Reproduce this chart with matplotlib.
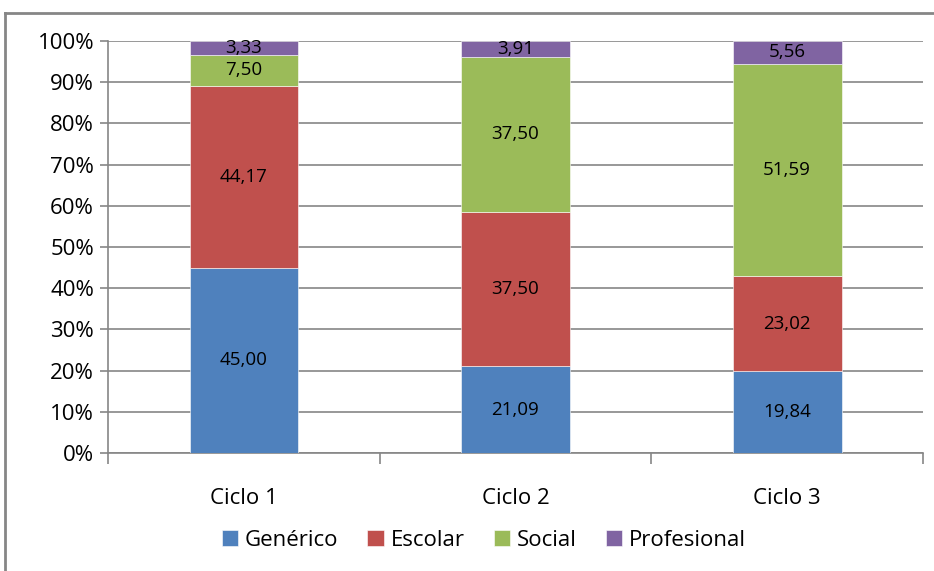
import numpy as np
import matplotlib.pyplot as plt
from matplotlib.lines import Line2D

categories = ["Ciclo 1", "Ciclo 2", "Ciclo 3"]
series_names = ["Genérico", "Escolar", "Social", "Profesional"]
generico = [45.00, 21.09, 19.84]
escolar = [44.17, 37.50, 23.02]
social = [7.50, 37.50, 51.59]
profesional = [3.33, 3.91, 5.56]
y_ticks = [0, 10, 20, 30, 40, 50, 60, 70, 80, 90, 100]

colors = ["#4F81BD", "#C0504D", "#9BBB59", "#8064A2"]
grey = "#868686"

plt.rcParams["font.family"] = ["Open Sans", "DejaVu Sans"]

fig = plt.figure(figsize=(9.34, 5.71), dpi=100)
ax = fig.add_axes([108 / 934, 118 / 571, (923 - 108) / 934, (453 - 41) / 571])

x = np.arange(len(categories))
bottom = np.zeros(len(categories))
for name, vals, col in zip(series_names, [generico, escolar, social, profesional], colors):
    vals = np.array(vals)
    ax.bar(x, vals, 0.4, bottom=bottom, color=col, label=name,
           edgecolor="white", linewidth=0.4, zorder=3)
    for xi, b, v in zip(x, bottom, vals):
        ax.text(xi, b + v / 2, f"{v:.2f}".replace(".", ","), ha="center", va="center",
                fontsize=13.5, color="black", zorder=4)
    bottom += vals

ax.set_xlim(-0.5, 2.5)
ax.set_ylim(0, 100)
ax.set_yticks(y_ticks)
ax.set_yticklabels([f"{t}%" for t in y_ticks])
ax.yaxis.grid(True, color=grey, linewidth=1.2, zorder=0)

ax.set_xticks([-0.5, 0.5, 1.5, 2.5])
ax.set_xticklabels([])
ax.set_xticks(x, minor=True)
ax.set_xticklabels(categories, minor=True)
ax.tick_params(axis="x", which="major", length=8, width=1.2, color=grey)
ax.tick_params(axis="x", which="minor", length=0, pad=25, labelsize=16)
ax.tick_params(axis="y", length=6, width=1.2, color=grey, labelsize=16, pad=4)

for s in ["top", "right"]:
    ax.spines[s].set_visible(False)
for s in ["left", "bottom"]:
    ax.spines[s].set_color(grey)
    ax.spines[s].set_linewidth(1.2)

fig.legend(loc="center", bbox_to_anchor=(0.518, 31 / 571), ncol=4, frameon=False,
           fontsize=16, handlelength=0.75, handleheight=0.75, handletextpad=0.3,
           columnspacing=1.3)

# outer chart border (left and top visible)
fig.add_artist(Line2D([5 / 934, 5 / 934], [0, 1 - 13 / 571], transform=fig.transFigure,
                      color=grey, linewidth=2))
fig.add_artist(Line2D([5 / 934, 1], [1 - 13 / 571, 1 - 13 / 571], transform=fig.transFigure,
                      color=grey, linewidth=2))

fig.savefig("out.png", dpi=100)
